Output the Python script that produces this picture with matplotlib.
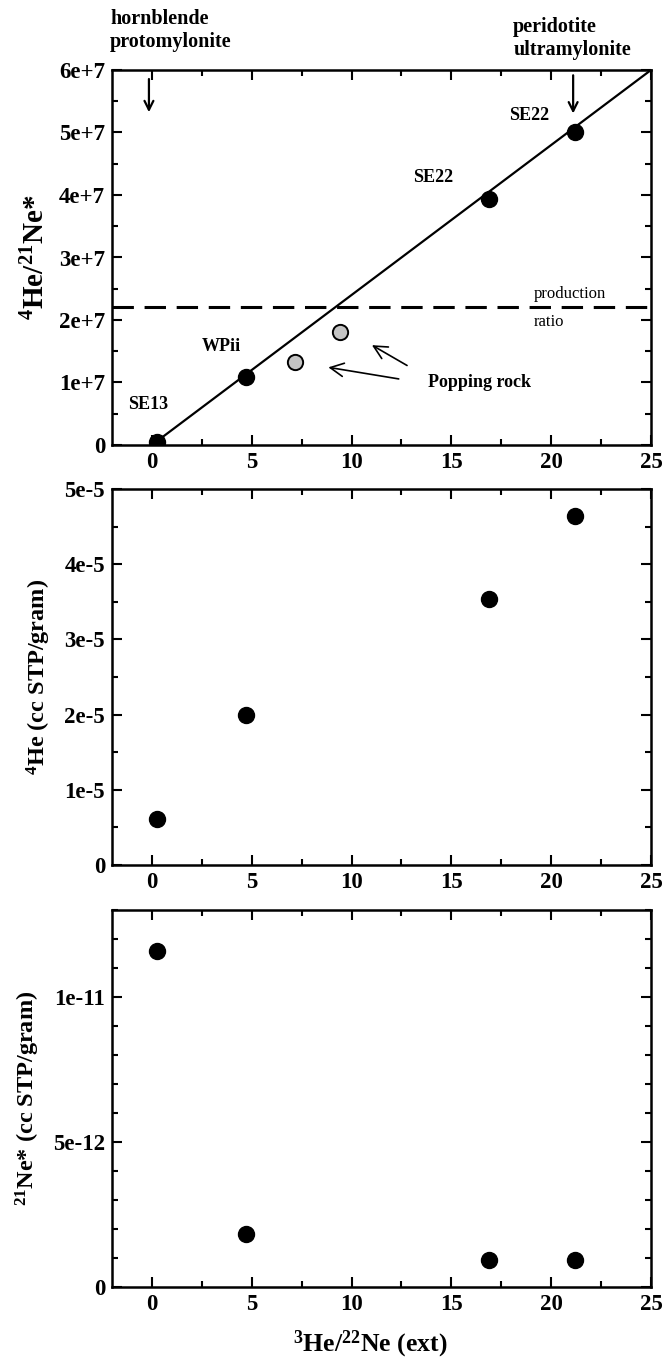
import matplotlib
matplotlib.use("Agg")
import matplotlib.pyplot as plt
from matplotlib.ticker import MultipleLocator

plt.rcParams['font.family'] = ['Liberation Serif', 'DejaVu Serif']
plt.rcParams['font.weight'] = 'bold'
plt.rcParams['mathtext.fontset'] = 'custom'
plt.rcParams['mathtext.rm'] = 'Liberation Serif:bold'
plt.rcParams['mathtext.it'] = 'Liberation Serif:bold'
plt.rcParams['mathtext.bf'] = 'Liberation Serif:bold'

# ---- data ----
ratio_3he_22ne = [0.23, 4.71, 16.87, 21.17]          # x values (samples)
he4_ne21 = [5.5e5, 1.09e7, 3.93e7, 5.0e7]             # panel 1, black points
sample_labels = ["SE13", "WPii", "SE22", "SE22"]
popping_x = [7.16, 9.40]
popping_y = [1.32e7, 1.80e7]
fit_x = [0.0, 25.0]
fit_slope = 2.4e6
production_ratio = 2.2e7
he4_conc = [6.1e-6, 2.0e-5, 3.54e-5, 4.64e-5]          # panel 2
ne21_conc = [1.16e-11, 1.84e-12, 9.2e-13, 9.4e-13]     # panel 3

W, H = 667, 1364
fig = plt.figure(figsize=(W/100, H/100), dpi=100)

left = 112 / W
width = (651 - 112) / W
def ax_at(top_px, bot_px):
    return fig.add_axes([left, 1 - bot_px / H, width, (bot_px - top_px) / H])

ax1 = ax_at(70, 445)
ax2 = ax_at(489, 865)
ax3 = ax_at(910, 1287)

TICKFS = 16.5
def style(ax, ymaj, ymin, ylim):
    ax.set_xlim(-2, 25)
    ax.set_ylim(*ylim)
    ax.xaxis.set_major_locator(MultipleLocator(5))
    ax.xaxis.set_minor_locator(MultipleLocator(2.5))
    ax.yaxis.set_major_locator(MultipleLocator(ymaj))
    ax.yaxis.set_minor_locator(MultipleLocator(ymin))
    ax.tick_params(which='both', direction='in', top=True, right=True,
                   width=1.5, labelsize=TICKFS)
    ax.tick_params(which='major', length=7, pad=5)
    ax.tick_params(which='minor', length=4)
    for s in ax.spines.values():
        s.set_linewidth(1.8)

# ---- panel 1 ----
style(ax1, 1e7, 5e6, (0, 6e7))
ax1.set_yticks([0, 1e7, 2e7, 3e7, 4e7, 5e7, 6e7])
ax1.set_yticklabels(["0", "1e+7", "2e+7", "3e+7", "4e+7", "5e+7", "6e+7"])
ax1.plot(fit_x, [fit_slope * v for v in fit_x], color='black', lw=1.6, zorder=2)
ax1.axhline(production_ratio, color='black', lw=2.2, dashes=(7, 3.5), zorder=2)
ax1.plot(ratio_3he_22ne, he4_ne21, 'o', color='black', ms=11.5, zorder=3)
ax1.plot(popping_x, popping_y, 'o', mfc='#c4c4c4', mec='black', mew=1.4, ms=11, zorder=3)

lab_pos = [(-0.2, 6.4e6), (3.5, 1.57e7), (14.1, 4.28e7), (18.9, 5.27e7)]
for t, (x, y) in zip(sample_labels, lab_pos):
    ax1.text(x, y, t, ha='center', va='center', fontsize=13, fontweight='bold')
ax1.text(16.4, 1.0e7, "Popping rock", ha='center', va='center', fontsize=13, fontweight='bold')
ax1.text(19.15, 2.42e7, "production", ha='left', va='center', fontsize=12, fontweight='normal')
ax1.text(19.15, 1.96e7, "ratio", ha='left', va='center', fontsize=12, fontweight='normal')

arrow_kw = dict(arrowstyle='->', color='black', lw=1.2, mutation_scale=24)
ax1.annotate("", xy=(8.7, 1.25e7), xytext=(12.5, 1.05e7), arrowprops=arrow_kw)
ax1.annotate("", xy=(10.9, 1.62e7), xytext=(12.9, 1.25e7), arrowprops=arrow_kw)

down_kw = dict(arrowstyle='->', color='black', lw=1.6, mutation_scale=16)
ax1.annotate("", xy=(-0.15, 5.28e7), xytext=(-0.15, 5.9e7), arrowprops=down_kw)
ax1.annotate("", xy=(21.1, 5.26e7), xytext=(21.1, 5.96e7), arrowprops=down_kw)

ax1.text(-2.1, 6.64e7, "hornblende\nprotomylonite", ha='left', va='center',
         fontsize=14.5, fontweight='bold', linespacing=1.2, clip_on=False)
ax1.text(18.1, 6.5e7, "peridotite\nultramylonite", ha='left', va='center',
         fontsize=14.5, fontweight='bold', linespacing=1.2, clip_on=False)

ax1.set_ylabel(r"$^{4}$He/$^{21}$Ne*", fontsize=21, fontweight='bold', labelpad=6)

# ---- panel 2 ----
style(ax2, 1e-5, 5e-6, (0, 5e-5))
ax2.set_yticks([0, 1e-5, 2e-5, 3e-5, 4e-5, 5e-5])
ax2.set_yticklabels(["0", "1e-5", "2e-5", "3e-5", "4e-5", "5e-5"])
ax2.plot(ratio_3he_22ne, he4_conc, 'o', color='black', ms=11.5)
ax2.set_ylabel(r"$^{4}$He (cc STP/gram)", fontsize=17.5, fontweight='bold', labelpad=8)

# ---- panel 3 ----
style(ax3, 5e-12, 1e-12, (0, 1.3e-11))
ax3.set_yticks([0, 5e-12, 1e-11])
ax3.set_yticklabels(["0", "5e-12", "1e-11"])
ax3.plot(ratio_3he_22ne, ne21_conc, 'o', color='black', ms=11.5)
ax3.set_ylabel(r"$^{21}$Ne* (cc STP/gram)", fontsize=17.5, fontweight='bold', labelpad=8)
ax3.set_xlabel(r"$^{3}$He/$^{22}$Ne (ext)", fontsize=18.5, fontweight='bold', labelpad=12)
ax3.xaxis.set_label_coords(0.48, -0.11)

for ax in (ax1, ax2, ax3):
    for lab in ax.get_xticklabels() + ax.get_yticklabels():
        lab.set_fontweight('bold')
        lab.set_fontsize(TICKFS)

fig.savefig("out.png", dpi=100)
